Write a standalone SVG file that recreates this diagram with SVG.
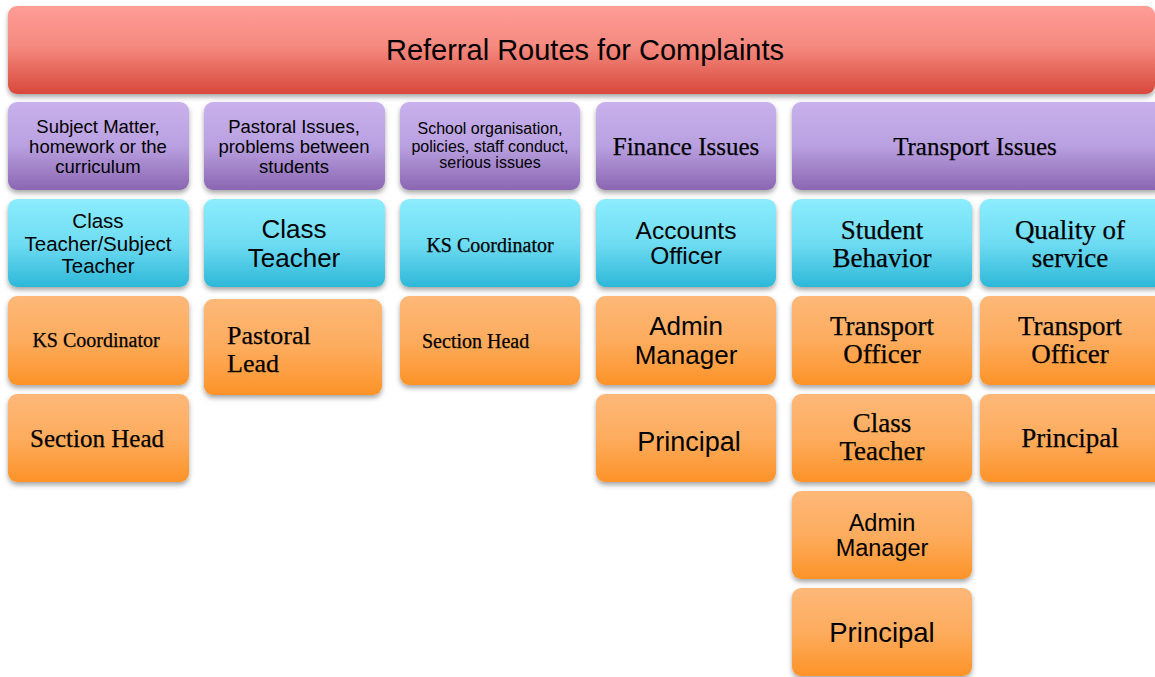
<svg xmlns="http://www.w3.org/2000/svg" width="1155" height="677" viewBox="0 0 1155 677">
<defs>
<linearGradient id="gRed" x1="0" y1="0" x2="0" y2="1"><stop offset="0" stop-color="#ff9c96"/><stop offset="0.45" stop-color="#f58a80"/><stop offset="1" stop-color="#d8483a"/></linearGradient>
<linearGradient id="gPur" x1="0" y1="0" x2="0" y2="1"><stop offset="0" stop-color="#c9b1ed"/><stop offset="0.5" stop-color="#b9a0e0"/><stop offset="1" stop-color="#8b66b2"/></linearGradient>
<linearGradient id="gCya" x1="0" y1="0" x2="0" y2="1"><stop offset="0" stop-color="#8cedfe"/><stop offset="0.5" stop-color="#6fdcf3"/><stop offset="1" stop-color="#2db8d8"/></linearGradient>
<linearGradient id="gOra" x1="0" y1="0" x2="0" y2="1"><stop offset="0" stop-color="#fdb878"/><stop offset="0.5" stop-color="#fdac5e"/><stop offset="1" stop-color="#fd9328"/></linearGradient>
<filter id="sh" x="-10%" y="-10%" width="120%" height="130%"><feDropShadow dx="0" dy="3" stdDeviation="2.5" flood-color="#000" flood-opacity="0.35"/></filter>
</defs>
<style>
.red{fill:url(#gRed);filter:url(#sh)}
.pur{fill:url(#gPur);filter:url(#sh)}
.cya{fill:url(#gCya);filter:url(#sh)}
.ora{fill:url(#gOra);filter:url(#sh)}
text{fill:#000;text-anchor:middle}
.s{font-family:"Liberation Sans",Arial,sans-serif}
.f{font-family:"Liberation Serif","Times New Roman",serif;stroke:#000;stroke-width:0.25}
.l{text-anchor:start}
</style>
<rect width="1155" height="677" fill="#fff"/>
<g id="connectors"></g>
<g id="title"><rect class="red" x="8" y="6" width="1147" height="88" rx="9"/><text class="s" x="585" y="60" font-size="29">Referral Routes for Complaints</text></g>

<g id="cat-subject"><rect class="pur" x="8" y="102" width="181" height="88" rx="9"/><text class="s" font-size="18.5"><tspan x="98" y="133">Subject Matter,</tspan><tspan x="98" y="153">homework or the</tspan><tspan x="98" y="173">curriculum</tspan></text></g>
<g id="cat-pastoral"><rect class="pur" x="204" y="102" width="181" height="88" rx="9"/><text class="s" font-size="18.5"><tspan x="294" y="133">Pastoral Issues,</tspan><tspan x="294" y="153">problems between</tspan><tspan x="294" y="173">students</tspan></text></g>
<g id="cat-school"><rect class="pur" x="400" y="102" width="180" height="88" rx="9"/><text class="s" font-size="16"><tspan x="490" y="134">School organisation,</tspan><tspan x="490" y="152">policies, staff conduct,</tspan><tspan x="490" y="168">serious issues</tspan></text></g>
<g id="cat-finance"><rect class="pur" x="596" y="102" width="180" height="88" rx="9"/><text class="f" x="686" y="155" font-size="25">Finance Issues</text></g>
<g id="cat-transport"><rect class="pur" x="792" y="102" width="372" height="88" rx="9"/><text class="f" x="975" y="155" font-size="25">Transport Issues</text></g>

<g id="c1-r2"><rect class="cya" x="8" y="199" width="181" height="88" rx="9"/><text class="s" font-size="20.5"><tspan x="98" y="228">Class</tspan><tspan x="98" y="251">Teacher/Subject</tspan><tspan x="98" y="273">Teacher</tspan></text></g>
<g id="c2-r2"><rect class="cya" x="204" y="199" width="181" height="88" rx="9"/><text class="s" font-size="26"><tspan x="294" y="238">Class</tspan><tspan x="294" y="267">Teacher</tspan></text></g>
<g id="c3-r2"><rect class="cya" x="400" y="199" width="180" height="88" rx="9"/><text class="f" x="490" y="252" font-size="20">KS Coordinator</text></g>
<g id="c4-r2"><rect class="cya" x="596" y="199" width="180" height="88" rx="9"/><text class="s" font-size="24.5"><tspan x="686" y="239">Accounts</tspan><tspan x="686" y="264">Officer</tspan></text></g>
<g id="c5-r2"><rect class="cya" x="792" y="199" width="180" height="88" rx="9"/><text class="f" font-size="27"><tspan x="882" y="239">Student</tspan><tspan x="882" y="267">Behavior</tspan></text></g>
<g id="c6-r2"><rect class="cya" x="980" y="199" width="184" height="88" rx="9"/><text class="f" font-size="27"><tspan x="1070" y="239">Quality of</tspan><tspan x="1070" y="267">service</tspan></text></g>

<g id="c1-r3"><rect class="ora" x="8" y="296" width="181" height="89" rx="9"/><text class="f" x="96" y="347" font-size="20">KS Coordinator</text></g>
<g id="c2-r3"><rect class="ora" x="204" y="299" width="178" height="96" rx="9"/><text class="f l" font-size="26"><tspan x="227" y="344">Pastoral</tspan><tspan x="227" y="372">Lead</tspan></text></g>
<g id="c3-r3"><rect class="ora" x="400" y="296" width="180" height="89" rx="9"/><text class="f l" x="422" y="348" font-size="20">Section Head</text></g>
<g id="c4-r3"><rect class="ora" x="596" y="296" width="180" height="89" rx="9"/><text class="s" font-size="26"><tspan x="686" y="335">Admin</tspan><tspan x="686" y="364">Manager</tspan></text></g>
<g id="c5-r3"><rect class="ora" x="792" y="296" width="180" height="89" rx="9"/><text class="f" font-size="27"><tspan x="882" y="335">Transport</tspan><tspan x="882" y="363">Officer</tspan></text></g>
<g id="c6-r3"><rect class="ora" x="980" y="296" width="184" height="89" rx="9"/><text class="f" font-size="27"><tspan x="1070" y="335">Transport</tspan><tspan x="1070" y="363">Officer</tspan></text></g>

<g id="c1-r4"><rect class="ora" x="8" y="394" width="181" height="88" rx="9"/><text class="f" x="97" y="447" font-size="25">Section Head</text></g>
<g id="c4-r4"><rect class="ora" x="596" y="394" width="180" height="88" rx="9"/><text class="s" x="689" y="451" font-size="27">Principal</text></g>
<g id="c5-r4"><rect class="ora" x="792" y="394" width="180" height="88" rx="9"/><text class="f" font-size="27"><tspan x="882" y="432">Class</tspan><tspan x="882" y="460">Teacher</tspan></text></g>
<g id="c6-r4"><rect class="ora" x="980" y="394" width="184" height="88" rx="9"/><text class="f" x="1070" y="447" font-size="27">Principal</text></g>

<g id="c5-r5"><rect class="ora" x="792" y="491" width="180" height="88" rx="9"/><text class="s" font-size="23.5"><tspan x="882" y="531">Admin</tspan><tspan x="882" y="556">Manager</tspan></text></g>
<g id="c5-r6"><rect class="ora" x="792" y="588" width="180" height="88" rx="9"/><text class="s" x="882" y="642" font-size="27.5">Principal</text></g>
</svg>
